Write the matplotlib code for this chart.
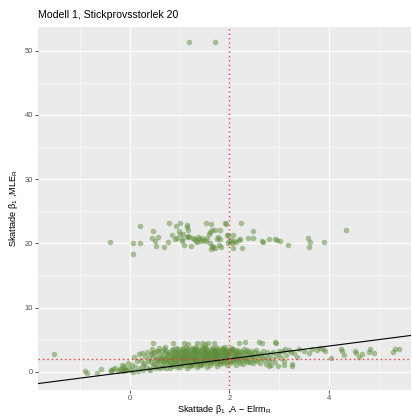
import numpy as np
import matplotlib.pyplot as plt

plt.rcParams['font.family'] = ['Liberation Sans', 'DejaVu Sans']
plt.rcParams['mathtext.fontset'] = 'custom'
plt.rcParams['mathtext.rm'] = 'Liberation Sans'
plt.rcParams['mathtext.default'] = 'regular'

TITLE = "Modell 1, Stickprovsstorlek 20"
XLABEL = "Skattade β$_1$ ,A − Elrm$_R$"
YLABEL = "Skattade β$_1$ ,MLE$_R$"
BETA_TRUE = 2.0
X_TICKS = [0, 2, 4]
Y_TICKS = [0, 10, 20, 30, 40, 50]

# left tail of the main cloud
tail = [(-1.52, 2.7), (-0.91, 0.1), (-0.86, -0.25), (-0.66, -0.25), (-0.58, 0.37),
        (-0.39, 0.2), (-0.34, 0.35), (-0.3, 0.5), (-0.25, 0.1), (-0.21, 0.4),
        (-0.17, 1.04), (-0.13, 0.6), (-0.1, 0.3), (-0.38, 0.05)]

# main cloud, by slabs of x
core = [
    (-0.18, 0.45), (-0.12, 0.9), (-0.08, 0.2), (-0.05, 1.3), (-0.02, 0.6), (-0.15, 0.15),
    (0.02, 0.3), (0.05, 1.1), (0.08, 2.3), (0.11, 0.7), (0.14, 1.6), (0.17, 0.1), (0.19, 2.8), (0.06, 0.0),
    (0.21, 0.5), (0.23, 1.9), (0.25, 2.9), (0.27, 0.2), (0.29, 1.3), (0.31, 2.4), (0.33, 0.8),
    (0.35, 3.1), (0.37, 1.7), (0.38, 0.4), (0.39, 2.1), (0.26, 1.0),
    (0.41, 0.3), (0.42, 1.5), (0.43, 2.7), (0.44, 3.6), (0.46, 0.9), (0.47, 2.2), (0.48, 1.2),
    (0.49, 3.0), (0.51, 0.6), (0.52, 1.9), (0.53, 2.5), (0.54, 3.3), (0.55, 1.4), (0.56, 0.8),
    (0.57, 2.0), (0.58, 3.7), (0.59, 1.7), (0.45, 2.9),
    (0.61, 0.5), (0.62, 1.8), (0.63, 2.6), (0.64, 3.2), (0.65, 1.1), (0.66, 2.2), (0.67, 0.8),
    (0.68, 3.5), (0.69, 1.5), (0.70, 2.9), (0.71, 2.0), (0.72, 0.6), (0.73, 3.3), (0.74, 1.3),
    (0.75, 2.4), (0.76, 1.9), (0.77, 2.7), (0.78, 1.0), (0.79, 3.0), (0.62, 2.3), (0.66, 1.6),
    (0.70, 3.8), (0.74, 2.1), (0.78, 1.7),
    (0.81, 0.6), (0.82, 1.9), (0.83, 2.8), (0.84, 3.4), (0.85, 1.2), (0.86, 2.3), (0.87, 0.9),
    (0.88, 3.1), (0.89, 1.6), (0.90, 2.6), (0.91, 2.0), (0.92, 3.7), (0.93, 1.4), (0.94, 2.9),
    (0.95, 0.7), (0.96, 2.2), (0.97, 3.3), (0.98, 1.8), (0.99, 2.5), (0.82, 1.1), (0.84, 2.5),
    (0.86, 3.6), (0.88, 1.7), (0.90, 3.0), (0.92, 2.4), (0.94, 1.0), (0.96, 3.5), (0.98, 2.8),
    (0.85, 2.1), (0.95, 1.5),
    (1.01, 0.8), (1.02, 2.0), (1.03, 3.0), (1.04, 3.6), (1.05, 1.3), (1.06, 2.4), (1.07, 1.0),
    (1.08, 3.3), (1.09, 1.7), (1.10, 2.7), (1.11, 2.1), (1.12, 3.8), (1.13, 1.5), (1.14, 2.9),
    (1.15, 0.6), (1.16, 2.3), (1.17, 3.4), (1.18, 1.9), (1.19, 2.6), (1.02, 1.2), (1.04, 2.6),
    (1.06, 3.7), (1.08, 1.8), (1.10, 3.1), (1.12, 2.5), (1.14, 1.1), (1.16, 3.5), (1.18, 2.8),
    (1.05, 2.2), (1.15, 1.6), (1.07, 2.9), (1.13, 3.2), (1.09, 2.3), (1.17, 2.0),
    (1.21, 0.9), (1.22, 2.1), (1.23, 3.1), (1.24, 3.7), (1.25, 1.4), (1.26, 2.5), (1.27, 1.1),
    (1.28, 3.4), (1.29, 1.8), (1.30, 2.8), (1.31, 2.2), (1.32, 3.9), (1.33, 1.6), (1.34, 3.0),
    (1.35, 0.7), (1.36, 2.4), (1.37, 3.5), (1.38, 2.0), (1.39, 2.7), (1.22, 1.3), (1.24, 2.7),
    (1.26, 3.6), (1.28, 1.9), (1.30, 3.2), (1.32, 2.6), (1.34, 1.2), (1.36, 3.3), (1.38, 2.9),
    (1.25, 2.3), (1.35, 1.7), (1.27, 3.0), (1.33, 2.4), (1.29, 2.1), (1.37, 1.5), (1.23, 1.0),
    (1.31, 3.6),
    (1.41, 1.0), (1.42, 2.2), (1.43, 3.2), (1.44, 3.8), (1.45, 1.5), (1.46, 2.6), (1.47, 1.2),
    (1.48, 3.5), (1.49, 1.9), (1.50, 2.9), (1.51, 2.3), (1.52, 3.7), (1.53, 1.7), (1.54, 3.1),
    (1.55, 0.8), (1.56, 2.5), (1.57, 3.4), (1.58, 2.1), (1.59, 2.8), (1.42, 1.4), (1.44, 2.8),
    (1.46, 3.6), (1.48, 2.0), (1.50, 3.3), (1.52, 2.7), (1.54, 1.3), (1.56, 3.0), (1.58, 2.4),
    (1.45, 2.1), (1.55, 1.8), (1.47, 3.1), (1.53, 2.5), (1.49, 2.4), (1.57, 1.6), (1.43, 1.1),
    (1.51, 3.9),
    (1.61, 1.1), (1.62, 2.3), (1.63, 3.2), (1.64, 3.7), (1.65, 1.6), (1.66, 2.7), (1.67, 1.3),
    (1.68, 3.4), (1.69, 2.0), (1.70, 3.0), (1.71, 2.4), (1.72, 3.8), (1.73, 1.8), (1.74, 3.1),
    (1.75, 0.9), (1.76, 2.6), (1.77, 3.5), (1.78, 2.2), (1.79, 2.9), (1.62, 1.5), (1.64, 2.9),
    (1.66, 3.6), (1.68, 2.1), (1.70, 3.3), (1.72, 2.8), (1.74, 1.4), (1.76, 3.2), (1.78, 2.5),
    (1.65, 2.2), (1.75, 1.9), (1.67, 3.0), (1.73, 2.6), (1.69, 2.5), (1.77, 1.7),
    (1.81, 1.2), (1.82, 2.4), (1.83, 3.3), (1.84, 3.7), (1.85, 1.7), (1.86, 2.8), (1.87, 1.4),
    (1.88, 3.5), (1.89, 2.1), (1.90, 3.0), (1.91, 2.5), (1.92, 3.8), (1.93, 1.9), (1.94, 3.2),
    (1.95, 1.0), (1.96, 2.7), (1.97, 3.4), (1.98, 2.3), (1.99, 2.9), (1.82, 1.6), (1.84, 3.0),
    (1.86, 3.6), (1.88, 2.2), (1.90, 3.3), (1.92, 2.8), (1.94, 1.5), (1.96, 3.1), (1.98, 2.6),
    (1.85, 2.3), (1.95, 2.0),
    (2.01, 1.3), (2.02, 2.5), (2.03, 3.3), (2.04, 3.7), (2.05, 1.8), (2.06, 2.9), (2.07, 1.5),
    (2.08, 3.5), (2.09, 2.2), (2.10, 3.1), (2.11, 2.6), (2.12, 1.9), (2.13, 3.2), (2.14, 1.1),
    (2.15, 2.8), (2.16, 3.4), (2.17, 2.4), (2.18, 2.0), (2.19, 3.0), (2.02, 1.7), (2.06, 3.6),
    (2.10, 2.3), (2.14, 2.7), (2.18, 1.6),
    (2.21, 1.4), (2.22, 2.6), (2.23, 3.3), (2.25, 1.9), (2.26, 2.9), (2.27, 1.2), (2.29, 3.5),
    (2.30, 2.3), (2.31, 3.0), (2.33, 1.7), (2.34, 2.7), (2.35, 3.4), (2.36, 2.1), (2.37, 1.5),
    (2.38, 3.1), (2.39, 2.5), (2.24, 2.2), (2.32, 2.0),
    (2.41, 1.5), (2.43, 2.7), (2.44, 3.3), (2.46, 2.0), (2.47, 1.3), (2.49, 3.0), (2.50, 2.4),
    (2.52, 1.8), (2.53, 3.4), (2.55, 2.6), (2.56, 1.6), (2.58, 2.9), (2.59, 2.2), (2.45, 2.5),
    (2.61, 1.4), (2.63, 2.8), (2.65, 2.1), (2.67, 3.2), (2.69, 1.8), (2.71, 2.5), (2.73, 1.2),
    (2.75, 3.0), (2.77, 2.2), (2.79, 1.6),
    (2.81, 2.7), (2.83, 1.1), (2.85, 2.0), (2.88, 3.1), (2.91, 1.5), (2.94, 2.4), (2.97, 0.9),
    (2.99, 2.8),
    (3.03, 2.1), (3.07, 3.2), (3.10, 1.7), (3.14, 2.6), (3.20, 3.4), (3.25, 0.9), (3.30, 2.9),
    (3.36, 2.3),
]

# upper fringe of the main cloud
fringe = [(0.46, 4.5), (0.56, 3.2), (0.86, 4.5), (1.09, 4.4), (1.16, 4.3), (1.35, 4.5),
          (1.45, 4.5), (1.51, 4.3), (1.57, 4.4), (1.69, 4.5), (2.2, 4.4), (2.31, 4.6),
          (2.6, 4.6), (2.66, 4.5), (2.92, 4.6), (2.94, 4.5)]

# right tail of the main cloud
right = [(3.0, 3.3), (3.12, 3.6), (3.24, 3.0), (3.4, 3.5), (3.5, 3.2), (3.6, 2.9),
         (3.65, 3.6), (3.75, 3.4), (3.82, 3.7), (3.88, 3.6), (3.92, 3.2), (4.04, 2.1),
         (4.24, 3.6), (4.26, 3.2), (4.31, 2.6), (4.53, 3.2), (4.55, 2.9), (4.6, 2.3),
         (4.66, 2.7), (4.8, 3.1), (4.83, 3.6), (4.9, 2.9), (5.29, 3.1), (5.33, 3.5),
         (5.4, 3.5), (2.8, 0.9), (3.25, 1.2), (3.1, 1.0)]

# second cluster around 20
high = [(-0.4, 20.2), (0.07, 20.0), (0.07, 18.4), (0.21, 22.7), (0.21, 20.0), (0.46, 21.9),
        (0.44, 20.9), (0.50, 20.4), (0.52, 19.6), (0.57, 21.0), (0.68, 19.5), (0.78, 23.2),
        (0.77, 20.2), (0.85, 21.3), (0.92, 22.7), (1.01, 23.1), (0.91, 20.6), (0.95, 20.9),
        (1.01, 21.4), (1.06, 21.5), (1.04, 20.3), (1.09, 19.7), (1.14, 22.8), (1.15, 22.5),
        (1.17, 22.1), (1.15, 21.0), (1.17, 21.1), (1.19, 21.0), (1.22, 19.6), (1.29, 20.7),
        (1.32, 20.4), (1.36, 21.0), (1.39, 20.6), (1.42, 20.3), (1.45, 20.8), (1.48, 20.5),
        (1.53, 20.3), (1.52, 23.1), (1.62, 23.0), (1.58, 21.5), (1.6, 21.8), (1.64, 22.0),
        (1.6, 20.0), (1.62, 19.1), (1.66, 19.5), (1.71, 19.3), (1.65, 19.6), (1.71, 22.1),
        (1.74, 20.6), (1.77, 21.0), (1.8, 20.7), (1.8, 22.1), (1.78, 19.7), (1.82, 19.5),
        (1.91, 23.2), (1.93, 23.0), (1.95, 21.3), (1.97, 20.0), (2.0, 20.3), (2.03, 20.5),
        (2.05, 20.1), (2.1, 20.4), (2.13, 20.2), (1.97, 21.3), (2.07, 21.3), (2.08, 19.2),
        (2.2, 20.5), (2.22, 20.6), (2.25, 19.2), (2.24, 23.2), (2.38, 20.9), (2.48, 21.9),
        (2.47, 20.8), (2.65, 20.4), (2.68, 20.2), (2.8, 20.7), (2.92, 20.6), (2.96, 20.5),
        (3.02, 20.4), (3.18, 19.8), (3.57, 20.9), (3.62, 20.2), (3.6, 19.4), (3.9, 20.2),
        (4.35, 22.1), (1.26, 20.9), (1.34, 20.2), (1.55, 20.9), (1.05, 20.6), (0.98, 21.9)]

# two extreme estimates
extreme = [(1.19, 51.3), (1.71, 51.3)]

points = tail + core + fringe + right + high + extreme
xs = np.array([p[0] for p in points])
ys = np.array([p[1] for p in points])

fig = plt.figure(figsize=(4.12, 4.16), dpi=100)
ax = fig.add_axes([38 / 412, 1 - 390 / 416, 373 / 412, 363 / 416])
ax.set_facecolor('#EBEBEB')
for s in ax.spines.values():
    s.set_visible(False)

ax.set_xlim(-1.85, 5.65)
ax.set_ylim(-2.85, 53.7)
ax.set_xticks(X_TICKS)
ax.set_yticks(Y_TICKS)
ax.set_xticks([-1, 1, 3, 5], minor=True)
ax.set_yticks([5, 15, 25, 35, 45], minor=True)
ax.grid(which='major', color='white', lw=0.8)
ax.grid(which='minor', color='white', lw=0.4)
ax.set_axisbelow(True)
ax.tick_params(which='major', length=2.2, width=0.6, color='#333333',
               labelsize=5.4, labelcolor='#4D4D4D', pad=1.5)
ax.tick_params(which='minor', length=0)

ax.scatter(xs, ys, s=16, color='#5E8E3A', alpha=0.5, linewidths=0, zorder=2)

# identity line and the true parameter value
ax.axline((0, 0), slope=1, color='black', lw=0.8, zorder=3)
ax.axhline(BETA_TRUE, color='#FF3030', lw=1.0, ls=(0, (1, 2.2)), zorder=3)
ax.axvline(BETA_TRUE, color='#FF3030', lw=1.0, ls=(0, (1, 2.2)), zorder=3)

ax.set_xlabel(XLABEL, fontsize=6.6, labelpad=0.5)
ax.set_ylabel(YLABEL, fontsize=6.6, labelpad=3)
fig.text(38 / 412, 1 - 15 / 416, TITLE, fontsize=7.6, ha='left', va='center')

fig.savefig('out.png', dpi=100)
